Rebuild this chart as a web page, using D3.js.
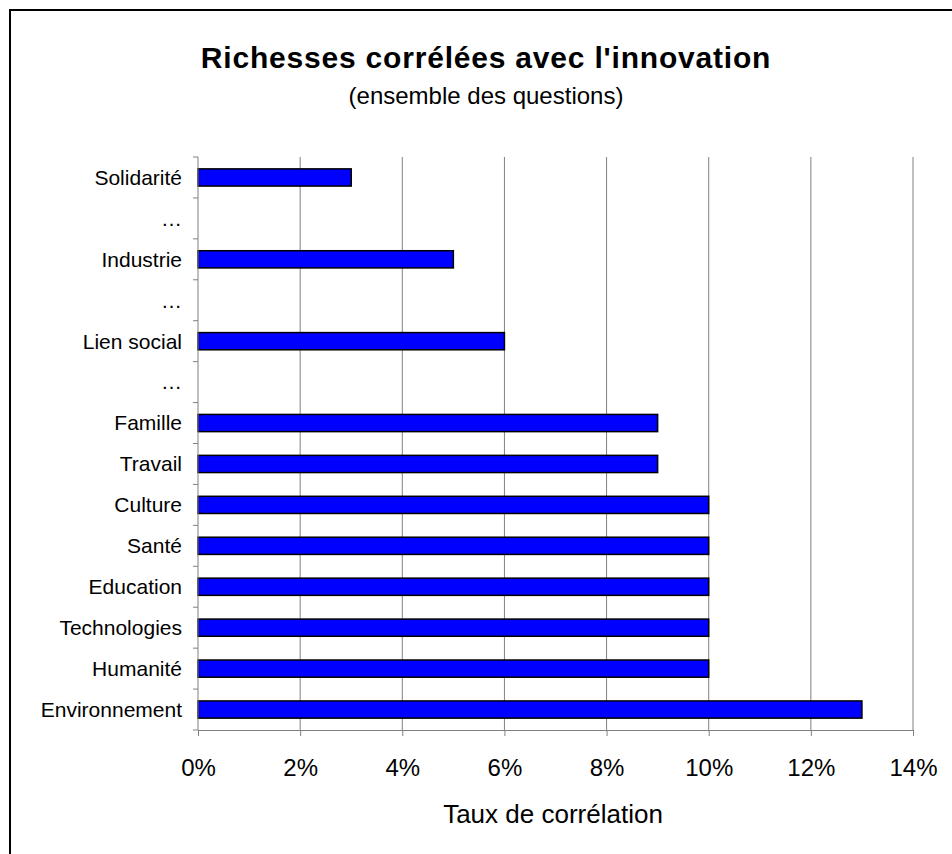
<!DOCTYPE html>
<html>
<head>
<meta charset="utf-8">
<script src="https://d3js.org/d3.v7.min.js"></script>
<style>
  body { margin: 0; background: #fff; }
  svg { display: block; font-family: "Liberation Sans", Arial, sans-serif; }
</style>
</head>
<body>
<div id="chart"></div>
<script>
const categories = ['Solidarité', '…', 'Industrie', '…', 'Lien social', '…', 'Famille', 'Travail',
                    'Culture', 'Santé', 'Education', 'Technologies', 'Humanité', 'Environnement']
const values = [3, null, 5, null, 6, null, 9, 9, 10, 10, 10, 10, 10, 13]
const xTicks = [0, 2, 4, 6, 8, 10, 12, 14]

const w = 952, h = 854
const padLeft = 198, padRight = 913, padTop = 157, padBottom = 730

const svg = d3.select('#chart').append('svg')
  .attr('width', w)
  .attr('height', h)

// frame
svg.append('rect')
  .attr('x', 10).attr('y', 10)
  .attr('width', 960).attr('height', 900)
  .attr('fill', 'none').attr('stroke', '#000').attr('stroke-width', 2)

const rows = categories.map((c, i) => ({ key: i, label: c, value: values[i] }))

const x = d3.scaleLinear().domain([0, 14]).range([padLeft, padRight])
const y = d3.scaleBand().domain(rows.map(d => d.key)).range([padTop, padBottom]).paddingInner(0.58).paddingOuter(0.29)
const step = y.step()

// gridlines
svg.append('g')
  .selectAll('line')
  .data(xTicks.slice(1))
  .join('line')
  .attr('x1', d => x(d)).attr('x2', d => x(d))
  .attr('y1', padTop).attr('y2', padBottom)
  .attr('stroke', '#808080').attr('stroke-width', 1)

// bars
svg.append('g')
  .selectAll('rect')
  .data(rows.filter(d => d.value != null))
  .join('rect')
  .attr('x', x(0))
  .attr('y', d => y(d.key))
  .attr('width', d => x(d.value) - x(0))
  .attr('height', y.bandwidth())
  .attr('fill', '#0000ff')
  .attr('stroke', '#000')
  .attr('stroke-width', 1.5)

// x axis
const xAxis = d3.axisBottom(x)
  .tickValues(xTicks)
  .tickFormat(d => d + '%')
  .tickSize(6)
  .tickSizeOuter(0)
  .tickPadding(23)
const gx = svg.append('g')
  .attr('transform', 'translate(0,' + padBottom + ')')
  .call(xAxis)
gx.select('.domain').attr('stroke', '#808080')
gx.selectAll('.tick line').attr('stroke', '#808080')
gx.selectAll('.tick text').attr('font-size', 24).attr('fill', '#000')
  .style('font-family', '"Liberation Sans", Arial, sans-serif')

// y axis: ticks at row boundaries
const gy = svg.append('g')
gy.append('line')
  .attr('x1', padLeft).attr('x2', padLeft)
  .attr('y1', padTop).attr('y2', padBottom)
  .attr('stroke', '#808080')
gy.selectAll('.bound')
  .data(d3.range(categories.length + 1))
  .join('line')
  .attr('class', 'bound')
  .attr('x1', padLeft - 5).attr('x2', padLeft)
  .attr('y1', i => padTop + i * step).attr('y2', i => padTop + i * step)
  .attr('stroke', '#808080')
gy.selectAll('text')
  .data(rows)
  .join('text')
  .attr('x', padLeft - 16)
  .attr('y', d => y(d.key) + y.bandwidth() / 2)
  .attr('dy', '0.35em')
  .attr('text-anchor', 'end')
  .attr('font-size', 21)
  .text(d => d.label)

// titles
svg.append('text')
  .attr('x', 486).attr('y', 68)
  .attr('text-anchor', 'middle')
  .attr('font-size', 30).attr('font-weight', 'bold')
  .attr('letter-spacing', 0.8)
  .text("Richesses corrélées avec l'innovation")
svg.append('text')
  .attr('x', 486).attr('y', 104)
  .attr('text-anchor', 'middle')
  .attr('font-size', 24)
  .text('(ensemble des questions)')
svg.append('text')
  .attr('x', 553).attr('y', 823)
  .attr('text-anchor', 'middle')
  .attr('font-size', 26)
  .text('Taux de corrélation')
</script>
</body>
</html>
